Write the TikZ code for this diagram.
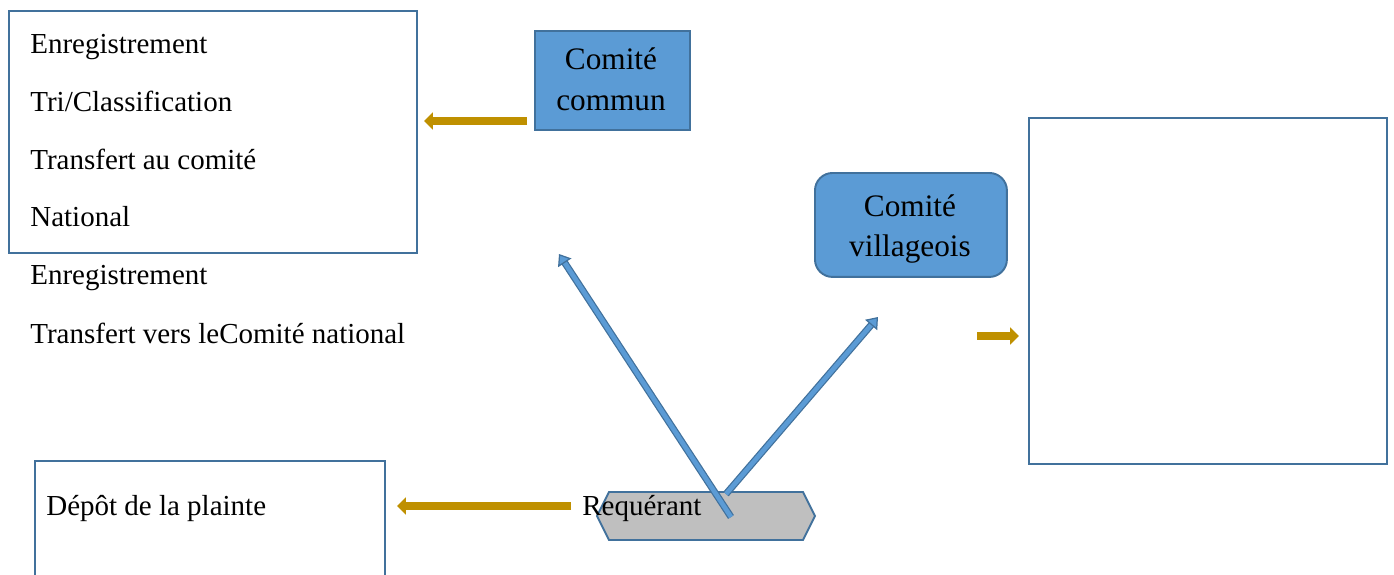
\documentclass[tikz,border=0pt]{standalone}
\usepackage{fontspec}
\setmainfont{Liberation Serif}
\usetikzlibrary{arrows.meta}
\definecolor{boxline}{HTML}{41719C}
\definecolor{boxfill}{HTML}{5B9BD5}
\definecolor{gold}{HTML}{BF9000}
\definecolor{hexfill}{HTML}{BFBFBF}
\tikzset{
  plainbox/.style={draw=boxline, line width=1.1pt, anchor=north west, inner sep=0pt},
  comitebox/.style={plainbox, fill=boxfill},
  txt/.style={anchor=base west, inner sep=0pt, font=\fontsize{16.5}{20}\selectfont},
  ctxt/.style={anchor=base, inner sep=0pt, font=\fontsize{17.8}{21}\selectfont},
  goldarrow/.style={draw=gold, line width=4pt, -{Triangle[length=5pt,width=9.5pt]}},
  bluearrow/.style={draw=boxline, line width=0.7pt, double=boxfill, double distance=2.6pt,
    -{Triangle[length=6pt,width=9pt,fill=boxfill]}}
}
\begin{document}
\begin{tikzpicture}[x=0.02cm,y=-0.02cm]
  \useasboundingbox (0,0) rectangle (1394,575);
  % boites
  \node[plainbox, minimum width=8.16cm, minimum height=4.84cm] (suivi) at (8,10) {};
  \node[comitebox, minimum width=3.1cm, minimum height=1.98cm] (commun) at (534,30) {};
  \node[comitebox, rounded corners=10pt, minimum width=3.84cm, minimum height=2.08cm] (village) at (814,172) {};
  \node[plainbox, minimum width=7.16cm, minimum height=6.92cm] (national) at (1028,117) {};
  \node[plainbox, minimum width=7cm, minimum height=2.5cm] (depot) at (34,460) {};
  \draw[draw=boxline, line width=1.1pt, fill=hexfill]
    (609,492) -- (803,492) -- (815,516) -- (803,540) -- (609,540) -- (597,516) -- cycle;
  % textes
  \node[txt] (l1) at (30,53) {Enregistrement};
  \node[txt] (l2) at (30,111) {Tri/Classification};
  \node[txt] (l3) at (30,169) {Transfert au comité};
  \node[txt] (l4) at (30,226) {National};
  \node[txt] (l5) at (30,284) {Enregistrement};
  \node[txt] (l6) at (30,343) {Transfert vers leComité national};
  \node[txt] (plainte) at (46,515) {Dépôt de la plainte};
  \node[ctxt] (c1) at (611,69) {Comité};
  \node[ctxt] (c2) at (611,110) {commun};
  \node[ctxt] (v1) at (910,216) {Comité};
  \node[ctxt] (v2) at (910,256) {villageois};
  % fleches
  \coordinate (g1) at (527,121);
  \coordinate (g1e) at (424,121);
  \coordinate (g2) at (977,336);
  \coordinate (g2e) at (1019,336);
  \coordinate (g3) at (571,506);
  \coordinate (g3e) at (397,506);
  \draw[goldarrow] (g1) -- (g1e);
  \draw[goldarrow] (g2) -- (g2e);
  \draw[goldarrow] (g3) -- (g3e);
  \node[txt] (req) at (582,515) {Requérant};
  \coordinate (b1) at (731,517);
  \coordinate (b1e) at (559,254);
  \coordinate (b2) at (726,494);
  \coordinate (b2e) at (878,317);
  \draw[bluearrow] (b1) -- (b1e);
  \draw[bluearrow] (b2) -- (b2e);
\end{tikzpicture}
\end{document}
